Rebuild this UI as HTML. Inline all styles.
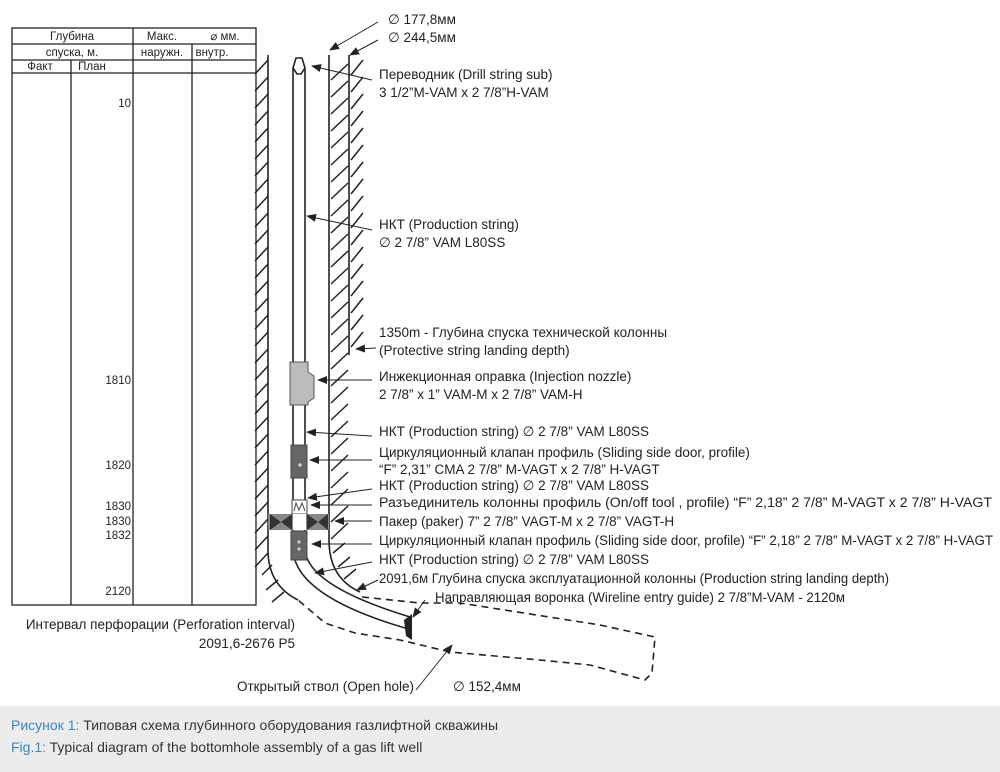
<!DOCTYPE html>
<html><head><meta charset="utf-8">
<style>
body{margin:0;width:1000px;height:772px;background:#fff;overflow:hidden;font-family:"Liberation Sans","DejaVu Sans",sans-serif;}
svg text{font-family:"Liberation Sans","DejaVu Sans",sans-serif;fill:#222;}
.cap{position:absolute;left:0;top:706px;width:1000px;height:66px;background:#ececec;}
.cap div{position:absolute;left:11px;font-size:14px;color:#333;}
.cap span{color:#3a86c0;}
</style></head><body>
<svg id="s" width="1000" height="706" style="position:absolute;left:0;top:0">
<defs><marker id="a" markerWidth="10" markerHeight="8" refX="9" refY="4" orient="auto" markerUnits="userSpaceOnUse"><path d="M0,0 L10,4 L0,8 z" fill="#222"/></marker></defs>
<g stroke="#222" stroke-width="1.3" fill="none">
<rect x="12" y="28" width="244" height="577"/>
<line x1="12" y1="44" x2="256" y2="44"/><line x1="12" y1="60" x2="256" y2="60"/><line x1="12" y1="73" x2="256" y2="73"/>
<line x1="133" y1="28" x2="133" y2="605"/><line x1="192" y1="44" x2="192" y2="605"/><line x1="71" y1="60" x2="71" y2="605"/>
</g>
<g font-size="11.5" text-anchor="middle"><text x="72" y="40">Глубина</text><text x="162" y="40">Макс.</text><text x="225" y="40">⌀ мм.</text>
<text x="72" y="56">спуска, м.</text><text x="162" y="56">наружн.</text><text x="212" y="56">внутр.</text>
<text x="40" y="70">Факт</text><text x="92" y="70">План</text></g>
<g font-size="11.5" text-anchor="end"><text x="131" y="107">10</text><text x="131" y="384">1810</text><text x="131" y="469">1820</text><text x="131" y="510">1830</text><text x="131" y="525">1830</text><text x="131" y="539">1832</text><text x="131" y="595">2120</text></g>
<g id="h" stroke="#222" stroke-width="1.5" fill="none"></g>
<g stroke="#222" stroke-width="1.6" fill="none">
<path d="M268,55 L268,550 Q268,585 298,600"/>
<path d="M329,55 L329,540 Q329,578 360,592"/>
<line x1="349" y1="55" x2="349" y2="355"/>
<path d="M293,68 L293,548 Q293,595 405,628"/>
<path d="M305,68 L305,548 Q305,585 410,617"/>
<path d="M293,68 L296,58 L302,58 L305,68 L301,74 L297,74 Z" fill="#fff"/>
<path stroke-dasharray="7,5" d="M362,597 L420,603 L460,603 L600,625 L655,637 L652,673 L645,680 L590,665 L540,660 L450,652 L400,640 L355,633 L325,623 L298,600"/>
</g>
<path d="M290,362 L308,362 L308,372 L314,376 L314,398 L308,402 L308,405 L290,405 Z" fill="#bbb" stroke="#555"/>
<rect x="291" y="445" width="16" height="33" fill="#666" stroke="#444"/><circle cx="300" cy="465" r="1.8" fill="#ccc"/>
<rect x="292" y="500" width="15" height="14" fill="#fff" stroke="#444"/><path d="M294,511 L296,503 L299,510 L302,503 L305,511" stroke="#444" fill="none"/>
<rect x="268" y="514" width="61" height="16" fill="#888"/><rect x="293" y="514" width="13" height="16" fill="#fff"/>
<path d="M270,514 L281,522 L270,530 Z M292,514 L281,522 L292,530 Z M307,514 L318,522 L307,530 Z M328,514 L318,522 L328,530 Z" fill="#333"/>
<rect x="291" y="531" width="16" height="29" fill="#666" stroke="#444"/><circle cx="299" cy="542" r="1.6" fill="#ccc"/><circle cx="299" cy="549" r="1.6" fill="#ccc"/>
<path d="M404,620 L412,614 L412,640 L406,636 Z" fill="#222"/>
<g stroke="#222" stroke-width="1" fill="none" marker-end="url(#a)">
<line x1="378" y1="22" x2="330" y2="50"/><line x1="378" y1="40" x2="350" y2="55"/>
<line x1="372" y1="80" x2="312" y2="66"/><line x1="372" y1="230" x2="307" y2="216"/>
<line x1="376" y1="348" x2="356" y2="349"/><line x1="372" y1="380" x2="318" y2="380"/>
<line x1="372" y1="436" x2="307" y2="432"/><line x1="372" y1="460" x2="310" y2="460"/>
<line x1="372" y1="489" x2="308" y2="498"/><line x1="372" y1="505" x2="311" y2="505"/>
<line x1="372" y1="521" x2="335" y2="521"/><line x1="372" y1="544" x2="312" y2="544"/>
<line x1="372" y1="562" x2="315" y2="573"/><line x1="378" y1="580" x2="357" y2="590"/>
<line x1="425" y1="600" x2="413" y2="617"/><line x1="416" y1="690" x2="452" y2="645"/>
</g>
<g font-size="13.5">
<text x="388" y="24">∅ 177,8мм</text><text x="388" y="42">∅ 244,5мм</text>
<text x="379" y="79">Переводник (Drill string sub)</text><text x="379" y="97">3 1/2”M-VAM x 2 7/8”H-VAM</text>
<text x="379" y="229">НКТ (Production string)</text><text x="379" y="247">∅ 2 7/8” VAM L80SS</text>
<text x="379" y="337">1350m - Глубина спуска технической колонны</text><text x="379" y="355">(Protective string landing depth)</text>
<text x="379" y="381">Инжекционная оправка (Injection nozzle)</text><text x="379" y="399">2 7/8” x 1” VAM-M x 2 7/8” VAM-H</text>
<text x="379" y="436">НКТ (Production string)  ∅ 2 7/8” VAM L80SS</text>
<text x="379" y="457">Циркуляционный клапан профиль (Sliding side door, profile)</text><text x="379" y="474">“F” 2,31” CMA 2 7/8” M-VAGT x 2 7/8” H-VAGT</text>
<text x="379" y="490">НКТ (Production string)  ∅ 2 7/8” VAM L80SS</text>
<text x="379" y="507" textLength="613" lengthAdjust="spacingAndGlyphs">Разъединитель колонны профиль (On/off tool , profile)  “F” 2,18” 2 7/8” M-VAGT x 2 7/8” H-VAGT</text>
<text x="379" y="526">Пакер (paker) 7” 2 7/8” VAGT-M x 2 7/8” VAGT-H</text>
<text x="379" y="545" textLength="614" lengthAdjust="spacingAndGlyphs">Циркуляционный клапан профиль (Sliding side door, profile) “F” 2,18” 2 7/8” M-VAGT x 2 7/8” H-VAGT</text>
<text x="379" y="564">НКТ (Production string)  ∅ 2 7/8” VAM L80SS</text>
<text x="379" y="583" textLength="510" lengthAdjust="spacingAndGlyphs">2091,6м Глубина спуска эксплуатационной колонны (Production string landing depth)</text>
<text x="435" y="602" textLength="410" lengthAdjust="spacingAndGlyphs">Направляющая воронка (Wireline entry guide) 2 7/8”M-VAM - 2120м</text>
<text x="295" y="629" text-anchor="end">Интервал перфорации (Perforation interval)</text><text x="295" y="648" text-anchor="end">2091,6-2676 P5</text>
<text x="414" y="691" text-anchor="end">Открытый ствол (Open hole)</text><text x="453" y="691">∅ 152,4мм</text>
</g>
</svg>
<div class="cap"><div style="top:11px"><span>Рисунок 1:</span> Типовая схема глубинного оборудования газлифтной скважины</div><div style="top:33px"><span>Fig.1:</span> Typical diagram of the bottomhole assembly of a gas lift well</div></div>
<script>
var g=document.getElementById('h'),s='';
function L(a,b,c,d){s+='<line x1="'+a+'" y1="'+b+'" x2="'+c+'" y2="'+d+'"/>';}
for(var y=60;y<555;y+=17)L(255,y+14,268,y);
for(var y=64;y<530;y+=17)L(331,y+16,348,y);
for(var y=60;y<345;y+=17)L(351,y+15,363,y);
L(262,575,272,565);L(266,590,278,580);L(272,602,284,592);
L(333,553,345,543);L(338,567,350,557);L(344,579,356,569);
g.innerHTML=s;
</script>
</body></html>
